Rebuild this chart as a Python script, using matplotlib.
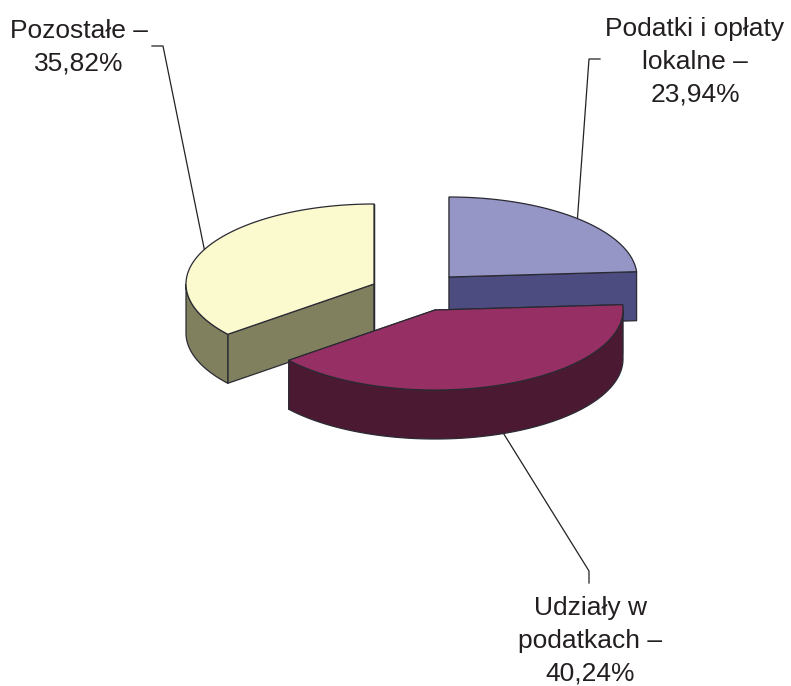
import numpy as np
import matplotlib
matplotlib.use('Agg')
import matplotlib.pyplot as plt
from matplotlib.patches import Polygon

# shares of the budget, clockwise from 12 o'clock
labels = ['Podatki i opłaty\nlokalne –\n23,94%', 'Udziały w\npodatkach –\n40,24%', 'Pozostałe –\n35,82%']
shares = [23.94, 40.24, 35.82]

top_colors = ['#9595C6', '#962F63', '#FBF9CE']
side_colors = ['#4C4C80', '#4B1A32', '#80805F']
draw_order = [2, 0, 1]

# apex of each exploded slice in pixels
apex_x = [449, 435, 374]
apex_y = [277, 310, 284]
label_x = [695, 590, 79]
label_y = [62, 641, 47]

# elbow of leader line: (mid point, end point)
elbow = [(589, 59), (589, 571), (163, 46)]
leader_end = [(600, 59), (589, 583), (152, 46)]

rx, ry = 188, 80
depth = 49
edge = '#2a2a33'


def rim(cx, cy, a0, a1, n=120):
    a = np.radians(np.linspace(a0, a1, n))
    return np.column_stack([cx + rx * np.sin(a), cy - ry * np.cos(a)])


def draw_slice(ax, cx, cy, a0, a1, top, side):
    down = np.array([0, depth])
    apex = np.array([[cx, cy]])
    # cut faces
    for a in (a0, a1):
        pt = rim(cx, cy, a, a, 1)
        quad = np.vstack([apex, pt, pt + down, apex + down])
        ax.add_patch(Polygon(quad, fc=side, ec=edge, lw=0.9, joinstyle='round'))
    # outer wall, only the front part shows
    w0, w1 = max(a0, 90), min(a1, 270)
    if w1 > w0:
        arc = rim(cx, cy, w0, w1)
        ax.add_patch(Polygon(np.vstack([arc, arc[::-1] + down]), fc=side, ec=edge, lw=0.9))
    face = np.vstack([apex, rim(cx, cy, a0, a1)])
    ax.add_patch(Polygon(face, fc=top, ec=edge, lw=0.9, joinstyle='round'))


fig = plt.figure(figsize=(7.91, 6.86), dpi=100)
ax = fig.add_axes([0, 0, 1, 1])
ax.set_xlim(0, 791)
ax.set_ylim(686, 0)
ax.axis('off')

bounds = np.concatenate([[0], np.cumsum(shares)]) / sum(shares) * 360

# leader lines go under the slices, from the middle of each arc
for i in range(3):
    mid = (bounds[i] + bounds[i + 1]) / 2
    start = rim(apex_x[i], apex_y[i], mid, mid, 1)[0]
    if 90 < mid < 270:
        start = start + [0, depth]
    xs = [start[0], elbow[i][0], leader_end[i][0]]
    ys = [start[1], elbow[i][1], leader_end[i][1]]
    ax.plot(xs, ys, color='#222222', lw=0.9, zorder=0)

for i in draw_order:
    draw_slice(ax, apex_x[i], apex_y[i], bounds[i], bounds[i + 1], top_colors[i], side_colors[i])

for i in range(3):
    ax.text(label_x[i], label_y[i], labels[i], ha='center', va='center', fontsize=19,
            family='Liberation Sans', color='#231f20', linespacing=1.46)

fig.savefig('out.png', dpi=100)
